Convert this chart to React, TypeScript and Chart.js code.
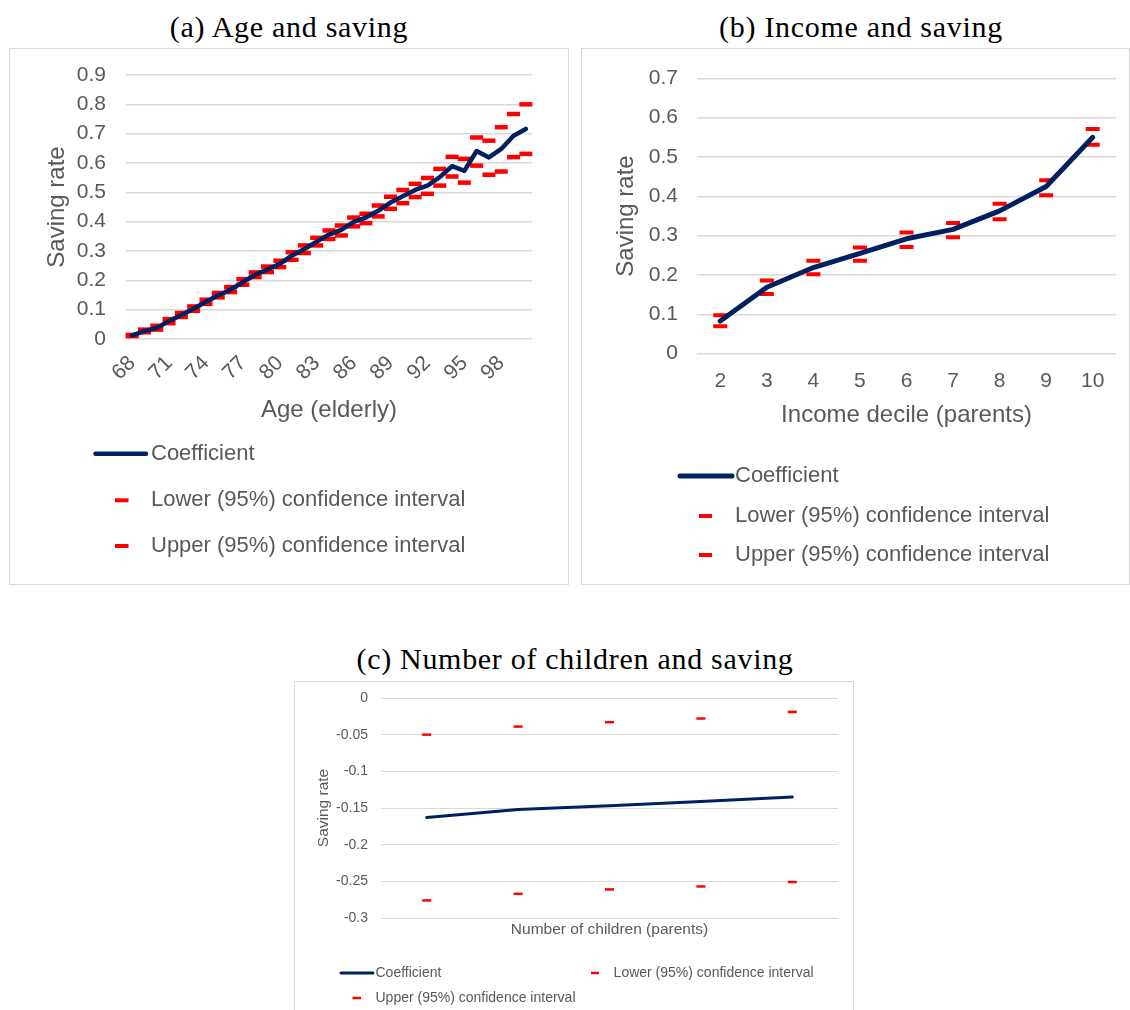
import React, { useEffect, useRef } from "react";
import { Chart, registerables } from "chart.js";

Chart.register(...registerables);

const FONT = "'Liberation Sans', Arial, sans-serif";
const SERIF = "'Liberation Serif', 'Times New Roman', serif";
const TEXT = "#595959";
const GRID = "#D9D9D9";
const NAVY = "#002060";
const RED = "#FF0000";

const SERIES = [
  "Coefficient",
  "Lower (95%) confidence interval",
  "Upper (95%) confidence interval",
];

// Panel (a): Age and saving
const ageLabels = [
  "68", "69", "70", "71", "72", "73", "74", "75", "76", "77", "78",
  "79", "80", "81", "82", "83", "84", "85", "86", "87", "88", "89",
  "90", "91", "92", "93", "94", "95", "96", "97", "98", "99", "100",
];
const ageCoef = [
  0.012, 0.027, 0.038, 0.061, 0.082, 0.103, 0.127, 0.149, 0.168, 0.194, 0.219,
  0.237, 0.256, 0.285, 0.307, 0.332, 0.356, 0.372, 0.399, 0.414, 0.437, 0.465,
  0.487, 0.508, 0.523, 0.552, 0.589, 0.573, 0.641, 0.619, 0.648, 0.693, 0.716,
];
const ageLower = [
  0.010, 0.023, 0.032, 0.054, 0.075, 0.096, 0.120, 0.142, 0.160, 0.185, 0.211,
  0.228, 0.245, 0.270, 0.293, 0.319, 0.341, 0.353, 0.384, 0.395, 0.418, 0.444,
  0.463, 0.484, 0.495, 0.523, 0.554, 0.533, 0.591, 0.560, 0.571, 0.620, 0.631,
];
const ageUpper = [
  0.014, 0.032, 0.045, 0.068, 0.089, 0.111, 0.134, 0.157, 0.177, 0.204, 0.227,
  0.247, 0.267, 0.296, 0.319, 0.345, 0.370, 0.387, 0.414, 0.427, 0.455, 0.485,
  0.508, 0.529, 0.549, 0.580, 0.621, 0.614, 0.687, 0.676, 0.722, 0.767, 0.800,
];

// Panel (b): Income and saving
const decileLabels = ["2", "3", "4", "5", "6", "7", "8", "9", "10"];
const decileCoef = [0.083, 0.169, 0.219, 0.255, 0.292, 0.316, 0.363, 0.425, 0.55];
const decileLower = [0.070, 0.152, 0.202, 0.236, 0.271, 0.296, 0.342, 0.403, 0.531];
const decileUpper = [0.098, 0.186, 0.236, 0.270, 0.308, 0.332, 0.381, 0.441, 0.571];

// Panel (c): Number of children and saving
const childLabels = ["1", "2", "3", "4", "5"];
const childCoef = [-0.163, -0.152, -0.147, -0.141, -0.135];
const childLower = [-0.276, -0.267, -0.261, -0.257, -0.251];
const childUpper = [-0.050, -0.039, -0.033, -0.028, -0.019];

const legendPlugin = {
  id: "customLegend",
  afterDraw(chart: any, _args: any, opts: any) {
    const ctx = chart.ctx;
    const items = opts.items || [];
    ctx.save();
    for (let i = 0; i < items.length; i++) {
      const it = items[i];
      const ds = chart.data.datasets[i];
      ctx.strokeStyle = ds.borderColor;
      ctx.lineWidth = it.lw;
      ctx.lineCap = it.cap || "butt";
      ctx.beginPath();
      ctx.moveTo(it.x1, it.y);
      ctx.lineTo(it.x2, it.y);
      ctx.stroke();
      ctx.fillStyle = TEXT;
      ctx.font = `${opts.size}px ${FONT}`;
      ctx.textBaseline = "middle";
      ctx.textAlign = "left";
      ctx.fillText(ds.label, it.tx, it.y);
    }
    ctx.restore();
  },
};

function buildConfig(o: any) {
  const dash = (label: string, data: number[]) => ({
    label,
    data,
    showLine: false,
    borderColor: RED,
    backgroundColor: RED,
    pointStyle: "line",
    pointRadius: o.dashR,
    pointHoverRadius: o.dashR,
    pointBorderWidth: o.dashW,
    pointBorderColor: RED,
    pointBackgroundColor: RED,
  });
  return {
    type: "line",
    data: {
      labels: o.labels,
      datasets: [
        {
          label: SERIES[0],
          data: o.coef,
          borderColor: NAVY,
          backgroundColor: NAVY,
          borderWidth: o.lineW,
          pointRadius: 0,
          pointHoverRadius: 0,
          tension: 0,
          fill: false,
          borderCapStyle: "round",
          borderJoinStyle: "round",
        },
        dash(SERIES[1], o.lower),
        dash(SERIES[2], o.upper),
      ],
    },
    options: {
      responsive: false,
      animation: false,
      events: [],
      layout: { padding: o.padding },
      plugins: {
        legend: { display: false },
        tooltip: { enabled: false },
        customLegend: { size: o.legendSize, items: o.legendItems },
      },
      scales: {
        x: {
          type: "category",
          offset: true,
          grid: { display: false },
          border: { display: false },
          ticks: {
            display: o.xTicksDisplay,
            autoSkip: false,
            maxRotation: o.xRotation,
            minRotation: o.xRotation,
            padding: o.xTickPad,
            color: TEXT,
            font: { family: FONT, size: o.tickSize },
            callback: (_v: any, i: number) =>
              i % o.xEvery === 0 ? o.labels[i] : "",
          },
          title: {
            display: true,
            text: o.xTitle,
            color: TEXT,
            font: { family: FONT, size: o.titleSize },
            padding: { top: 0, bottom: o.xTitlePad },
          },
          afterFit: (s: any) => {
            s.height = o.xHeight;
          },
        },
        y: {
          min: o.yMin,
          max: o.yMax,
          grid: {
            color: GRID,
            lineWidth: o.gridW,
            drawTicks: true,
            tickLength: o.yTickPad,
            tickColor: "rgba(0,0,0,0)",
          },
          border: { display: false },
          ticks: {
            stepSize: o.yStep,
            padding: 0,
            color: TEXT,
            font: { family: FONT, size: o.tickSize },
            callback: (v: any) => String(Number(Number(v).toFixed(3))),
          },
          title: {
            display: true,
            text: "Saving rate",
            color: TEXT,
            font: { family: FONT, size: o.titleSize },
            padding: { top: o.yTitlePad, bottom: 0 },
          },
          afterFit: (s: any) => {
            s.width = o.yWidth;
          },
        },
      },
    },
    plugins: [legendPlugin],
  };
}

const configA = buildConfig({
  labels: ageLabels,
  coef: ageCoef,
  lower: ageLower,
  upper: ageUpper,
  lineW: 4.5,
  dashR: 6.5,
  dashW: 4.5,
  padding: { left: 0, top: 26, right: 36, bottom: 145 },
  xTicksDisplay: true,
  xRotation: 45,
  xTickPad: 4,
  xEvery: 3,
  xTitle: "Age (elderly)",
  xTitlePad: 14.6,
  xHeight: 100,
  yMin: 0,
  yMax: 0.9,
  yStep: 0.1,
  yTickPad: 20,
  yTitlePad: 32.6,
  yWidth: 116,
  tickSize: 21,
  titleSize: 24,
  gridW: 1.5,
  legendSize: 22,
  legendItems: [
    { x1: 85.5, x2: 136, y: 404.7, tx: 141, lw: 4.5, cap: "round" },
    { x1: 105, x2: 118.5, y: 451.3, tx: 141, lw: 4 },
    { x1: 105, x2: 118.5, y: 497, tx: 141, lw: 4 },
  ],
});

const configB = buildConfig({
  labels: decileLabels,
  coef: decileCoef,
  lower: decileLower,
  upper: decileUpper,
  lineW: 5,
  dashR: 7,
  dashW: 4,
  padding: { left: 0, top: 29.3, right: 13, bottom: 130.3 },
  xTicksDisplay: true,
  xRotation: 0,
  xTickPad: 7,
  xEvery: 1,
  xTitle: "Income decile (parents)",
  xTitlePad: 24.3,
  xHeight: 100,
  yMin: 0,
  yMax: 0.7,
  yStep: 0.1,
  yTickPad: 19,
  yTitlePad: 29.6,
  yWidth: 115,
  tickSize: 21,
  titleSize: 24,
  gridW: 1.5,
  legendSize: 22,
  legendItems: [
    { x1: 98, x2: 150, y: 427, tx: 153, lw: 5, cap: "round" },
    { x1: 117, x2: 130, y: 467, tx: 153, lw: 4 },
    { x1: 117, x2: 130, y: 506, tx: 153, lw: 4 },
  ],
});

const configC = buildConfig({
  labels: childLabels,
  coef: childCoef,
  lower: childLower,
  upper: childUpper,
  lineW: 3,
  dashR: 4.5,
  dashW: 2.5,
  padding: { left: 0, top: 16, right: 15, bottom: 62 },
  xTicksDisplay: false,
  xRotation: 0,
  xTickPad: 4,
  xEvery: 1,
  xTitle: "Number of children (parents)",
  xTitlePad: 8.7,
  xHeight: 30,
  yMin: -0.3,
  yMax: 0,
  yStep: 0.05,
  yTickPad: 13,
  yTitlePad: 19.7,
  yWidth: 86,
  tickSize: 14,
  titleSize: 15.5,
  gridW: 1,
  legendSize: 14,
  legendItems: [
    { x1: 46, x2: 78, y: 291, tx: 80.5, lw: 3, cap: "round" },
    { x1: 296, x2: 304, y: 291, tx: 318.6, lw: 2.5 },
    { x1: 57.5, x2: 66, y: 316, tx: 80.5, lw: 2.5 },
  ],
});

function ChartCanvas({ config, width, height }: any) {
  const ref = useRef<HTMLCanvasElement>(null);
  useEffect(() => {
    const chart = new Chart(ref.current as HTMLCanvasElement, config as any);
    return () => chart.destroy();
  }, [config]);
  return (
    <canvas
      ref={ref}
      width={width}
      height={height}
      style={{ display: "block", width, height }}
    />
  );
}

function Title({ text, cx, cy }: any) {
  return (
    <div
      style={{
        position: "absolute",
        left: cx - 300,
        top: cy - 20,
        width: 600,
        height: 40,
        lineHeight: "40px",
        textAlign: "center",
        fontFamily: SERIF,
        fontSize: 30,
        letterSpacing: "0.7px",
        color: "#000",
        whiteSpace: "nowrap",
      }}
    >
      {text}
    </div>
  );
}

function Box({ left, top, width, height, children }: any) {
  return (
    <div
      style={{
        position: "absolute",
        left,
        top,
        width,
        height,
        border: `1px solid ${GRID}`,
        boxSizing: "border-box",
        background: "#fff",
      }}
    >
      {children}
    </div>
  );
}

export default function App() {
  return (
    <div
      style={{
        position: "absolute",
        left: 0,
        top: 0,
        width: 1130,
        height: 1010,
        overflow: "hidden",
        background: "#fff",
      }}
    >
      <Title text="(a) Age and saving" cx={289} cy={27} />
      <Box left={9} top={48} width={560} height={537}>
        <ChartCanvas config={configA} width={558} height={535} />
      </Box>

      <Title text="(b) Income and saving" cx={861} cy={27} />
      <Box left={581} top={48} width={549} height={537}>
        <ChartCanvas config={configB} width={547} height={535} />
      </Box>

      <Title text="(c) Number of children and saving" cx={575} cy={659} />
      <Box left={294} top={681} width={560} height={340}>
        <ChartCanvas config={configC} width={558} height={328} />
      </Box>
    </div>
  );
}
